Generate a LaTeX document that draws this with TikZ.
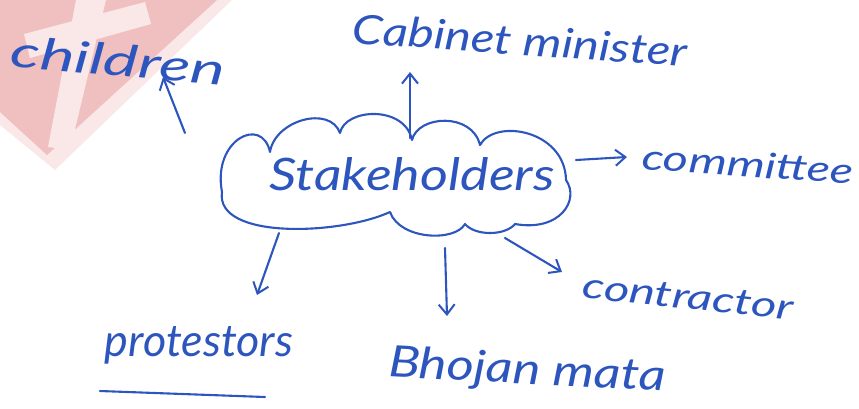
\documentclass[tikz,border=0pt]{standalone}
\usepackage{fontspec}
\setmainfont{Lato}
\usetikzlibrary{arrows.meta}
\definecolor{ink}{RGB}{45,85,190}
\definecolor{wmpink}{RGB}{240,192,192}
\definecolor{wmlight}{RGB}{250,232,232}
\tikzset{
  stroke/.style={draw=ink, line width=2.1pt, line cap=round, line join=round},
  arr/.style={stroke, -{Straight Barb[length=10pt,width=16pt,line width=2pt]}},
  lbl/.style={text=ink, inner sep=0pt, font=\itshape},
}
\newcommand{\hw}[3]{\resizebox{#1pt}{#2pt}{#3}}
\begin{document}
\begin{tikzpicture}[x=1pt,y=-1pt]
\useasboundingbox (0,0) rectangle (859,408);
% faded watermark
\fill[wmlight] (0,0) -- (232,0) -- (55,170) -- (0,125) -- cycle;
\fill[wmpink] (0,0) -- (217,0) -- (47,155) -- (0,112) -- cycle;
\fill[wmlight] (76,0) -- (106,0) -- (70,150) -- (48,147) -- cycle;
\fill[wmlight] (24,34) -- (145,2) -- (151,24) -- (30,58) -- cycle;

% cloud
\path[stroke] (222,192)
  .. controls (212,140) and (262,115) .. (270,152)
  .. controls (275,120) and (330,105) .. (340,133)
  .. controls (345,108) and (405,105) .. (412,140)
  .. controls (418,115) and (472,112) .. (480,145)
  .. controls (495,118) and (565,130) .. (566,180)
  .. controls (580,200) and (560,232) .. (515,224)
  .. controls (505,236) and (475,236) .. (465,224)
  .. controls (455,242) and (400,240) .. (390,212)
  .. controls (340,235) and (215,240) .. (222,192) -- cycle;
\node[lbl] (stake) at (412,174) {\hw{285}{33}{Stakeholders}};

% labels
\node[lbl, rotate=-5] (child) at (118,60) {\hw{215}{32}{children}};
\node[lbl, rotate=-4] (cab) at (520,40) {\hw{335}{30}{Cabinet minister}};
\node[lbl, rotate=-4] (comm) at (748,164) {\hw{212}{26}{committee}};
\node[lbl, rotate=-6] (contr) at (688,297) {\hw{212}{24}{contractor}};
\node[lbl] (prot) at (199,345) {\hw{188}{30}{protestors}};
\node[lbl, rotate=-3] (bhoj) at (527,372) {\hw{277}{32}{Bhojan mata}};

% connector end points
\coordinate (sChild) at (185,133); \coordinate (eChild) at (163,77);
\coordinate (sCab) at (410,138);   \coordinate (eCab) at (410,72);
\coordinate (sComm) at (576,160);  \coordinate (eComm) at (627,157);
\coordinate (sContr) at (505,238); \coordinate (eContr) at (562,272);
\coordinate (sProt) at (279,233);  \coordinate (eProt) at (257,295);
\coordinate (sBhoj) at (445,248);  \coordinate (eBhoj) at (447,316);
\coordinate (u1) at (100,391);     \coordinate (u2) at (265,397);

\draw[arr] (sChild) -- (eChild);
\draw[arr] (sCab) -- (eCab);
\draw[arr] (sComm) -- (eComm);
\draw[arr] (sContr) -- (eContr);
\draw[arr] (sProt) -- (eProt);
\draw[arr] (sBhoj) -- (eBhoj);
\draw[stroke] (u1) -- (u2);
\end{tikzpicture}
\end{document}
